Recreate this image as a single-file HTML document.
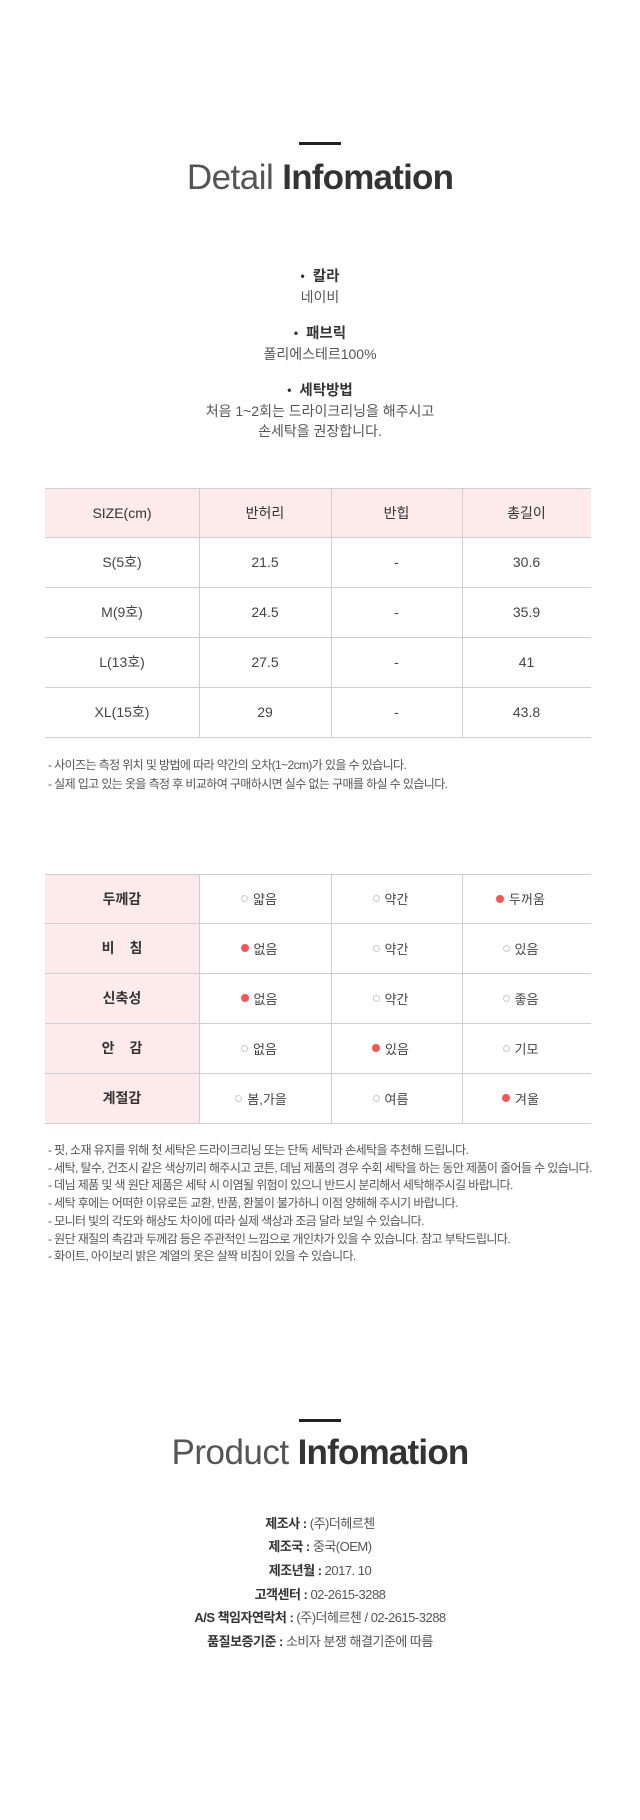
<!DOCTYPE html>
<html><head><meta charset="utf-8">
<style>
*{margin:0;padding:0;box-sizing:border-box}
html,body{width:640px;height:1820px;background:#fff;overflow:hidden}
body{position:relative;font-family:"Liberation Sans","Noto Sans CJK KR",sans-serif;color:#444}
.bar{position:absolute;left:299px;width:42px;height:3px;background:#222}
.title{position:absolute;left:0;width:640px;text-align:center;font-size:35px;line-height:40px;white-space:nowrap}
.title .l{color:#555;font-weight:normal;letter-spacing:-0.5px;margin-right:9px}
.title .b{color:#333;font-weight:bold;letter-spacing:-0.8px}
.c{position:absolute;left:0;width:640px;text-align:center;white-space:nowrap;line-height:20px}
.lab{font-size:14.5px;font-weight:bold;color:#333}
.lab .dot{font-size:12px;margin-right:8px;position:relative;top:-1px}
.txt{font-size:14px;color:#555}
.hl{position:absolute;left:45px;width:546px;height:1px;background:#cfcfcf}
.vl{position:absolute;width:1px;background:#cfcfcf}
.pink{position:absolute;background:#fdeaea}
.cell{position:absolute;display:flex;align-items:center;justify-content:center;font-size:14px;white-space:nowrap;color:#444}
.hd{color:#333}
.bh{font-weight:bold;color:#333;font-size:14px}
.v{display:flex;align-items:center;justify-content:center;padding-right:12px;font-size:13px;color:#444}
.o{display:inline-block;width:7px;height:7px;border:1px solid #cacaca;border-radius:50%;margin-right:5px}
.f{display:inline-block;width:8px;height:8px;background:#f45656;border-radius:50%;margin-right:5px}
.notes{position:absolute;left:48px;font-size:12px;letter-spacing:-0.6px;color:#555;white-space:nowrap}
.pi{position:absolute;left:0;width:640px;text-align:center;font-size:13px;letter-spacing:-0.5px;line-height:23.7px;white-space:nowrap;color:#555}
.pi b{color:#333}
</style></head>
<body>

<!-- Detail Infomation -->
<div class="bar" style="top:142px"></div>
<div class="title" style="top:158px"><span class="l">Detail</span><span class="b">Infomation</span></div>

<div class="c lab" style="top:267px"><span class="dot">•</span>칼라</div>
<div class="c txt" style="top:287px">네이비</div>
<div class="c lab" style="top:324px"><span class="dot">•</span>패브릭</div>
<div class="c txt" style="top:344px">폴리에스테르100%</div>
<div class="c lab" style="top:381px"><span class="dot">•</span>세탁방법</div>
<div class="c txt" style="top:401px">처음 1~2회는 드라이크리닝을 해주시고</div>
<div class="c txt" style="top:421px">손세탁을 권장합니다.</div>

<!-- Size table -->
<div class="pink" style="left:45px;top:488px;width:546px;height:49px"></div>
<div class="hl" style="top:488px"></div>
<div class="hl" style="top:537px"></div>
<div class="hl" style="top:587px"></div>
<div class="hl" style="top:637px"></div>
<div class="hl" style="top:687px"></div>
<div class="hl" style="top:737px"></div>
<div class="vl" style="left:199px;top:488px;height:250px"></div>
<div class="vl" style="left:331px;top:488px;height:250px"></div>
<div class="vl" style="left:462px;top:488px;height:250px"></div>

<div class="cell hd" style="left:45px;width:154px;top:488px;height:49px">SIZE(cm)</div>
<div class="cell hd" style="left:199px;width:132px;top:488px;height:49px">반허리</div>
<div class="cell hd" style="left:331px;width:131px;top:488px;height:49px">반힙</div>
<div class="cell hd" style="left:462px;width:129px;top:488px;height:49px">총길이</div>

<div class="cell" style="left:45px;width:154px;top:537px;height:50px">S(5호)</div>
<div class="cell" style="left:199px;width:132px;top:537px;height:50px">21.5</div>
<div class="cell" style="left:331px;width:131px;top:537px;height:50px">-</div>
<div class="cell" style="left:462px;width:129px;top:537px;height:50px">30.6</div>

<div class="cell" style="left:45px;width:154px;top:587px;height:50px">M(9호)</div>
<div class="cell" style="left:199px;width:132px;top:587px;height:50px">24.5</div>
<div class="cell" style="left:331px;width:131px;top:587px;height:50px">-</div>
<div class="cell" style="left:462px;width:129px;top:587px;height:50px">35.9</div>

<div class="cell" style="left:45px;width:154px;top:637px;height:50px">L(13호)</div>
<div class="cell" style="left:199px;width:132px;top:637px;height:50px">27.5</div>
<div class="cell" style="left:331px;width:131px;top:637px;height:50px">-</div>
<div class="cell" style="left:462px;width:129px;top:637px;height:50px">41</div>

<div class="cell" style="left:45px;width:154px;top:687px;height:50px">XL(15호)</div>
<div class="cell" style="left:199px;width:132px;top:687px;height:50px">29</div>
<div class="cell" style="left:331px;width:131px;top:687px;height:50px">-</div>
<div class="cell" style="left:462px;width:129px;top:687px;height:50px">43.8</div>

<div class="notes" style="top:755.5px;line-height:19px">- 사이즈는 측정 위치 및 방법에 따라 약간의 오차(1~2cm)가 있을 수 있습니다.<br>- 실제 입고 있는 옷을 측정 후 비교하여 구매하시면 실수 없는 구매를 하실 수 있습니다.</div>

<!-- Fabric table -->
<div class="pink" style="left:45px;top:874px;width:154px;height:249px"></div>
<div class="hl" style="top:874px"></div>
<div class="hl" style="top:923px"></div>
<div class="hl" style="top:973px"></div>
<div class="hl" style="top:1023px"></div>
<div class="hl" style="top:1073px"></div>
<div class="hl" style="top:1123px"></div>
<div class="vl" style="left:199px;top:874px;height:250px"></div>
<div class="vl" style="left:331px;top:874px;height:250px"></div>
<div class="vl" style="left:462px;top:874px;height:250px"></div>

<!-- row 1 -->
<div class="cell bh" style="left:45px;width:154px;top:874px;height:49px">두께감</div>
<div class="cell" style="left:199px;width:132px;top:874px;height:49px"><div class="v"><span class="o"></span>얇음</div></div>
<div class="cell" style="left:331px;width:131px;top:874px;height:49px"><div class="v"><span class="o"></span>약간</div></div>
<div class="cell" style="left:462px;width:129px;top:874px;height:49px"><div class="v"><span class="f"></span>두꺼움</div></div>
<!-- row 2 -->
<div class="cell bh" style="left:45px;width:154px;top:923px;height:50px">비<span style="display:inline-block;width:15px"></span>침</div>
<div class="cell" style="left:199px;width:132px;top:923px;height:50px"><div class="v"><span class="f"></span>없음</div></div>
<div class="cell" style="left:331px;width:131px;top:923px;height:50px"><div class="v"><span class="o"></span>약간</div></div>
<div class="cell" style="left:462px;width:129px;top:923px;height:50px"><div class="v"><span class="o"></span>있음</div></div>
<!-- row 3 -->
<div class="cell bh" style="left:45px;width:154px;top:973px;height:50px">신축성</div>
<div class="cell" style="left:199px;width:132px;top:973px;height:50px"><div class="v"><span class="f"></span>없음</div></div>
<div class="cell" style="left:331px;width:131px;top:973px;height:50px"><div class="v"><span class="o"></span>약간</div></div>
<div class="cell" style="left:462px;width:129px;top:973px;height:50px"><div class="v"><span class="o"></span>좋음</div></div>
<!-- row 4 -->
<div class="cell bh" style="left:45px;width:154px;top:1023px;height:50px">안<span style="display:inline-block;width:15px"></span>감</div>
<div class="cell" style="left:199px;width:132px;top:1023px;height:50px"><div class="v"><span class="o"></span>없음</div></div>
<div class="cell" style="left:331px;width:131px;top:1023px;height:50px"><div class="v"><span class="f"></span>있음</div></div>
<div class="cell" style="left:462px;width:129px;top:1023px;height:50px"><div class="v"><span class="o"></span>기모</div></div>
<!-- row 5 -->
<div class="cell bh" style="left:45px;width:154px;top:1073px;height:50px">계절감</div>
<div class="cell" style="left:199px;width:132px;top:1073px;height:50px"><div class="v" style="padding-right:8px"><span class="o"></span>봄,가을</div></div>
<div class="cell" style="left:331px;width:131px;top:1073px;height:50px"><div class="v"><span class="o"></span>여름</div></div>
<div class="cell" style="left:462px;width:129px;top:1073px;height:50px"><div class="v"><span class="f"></span>겨울</div></div>

<div class="notes" style="top:1142px;line-height:17.7px">- 핏, 소재 유지를 위해 첫 세탁은 드라이크리닝 또는 단독 세탁과 손세탁을 추천해 드립니다.<br>- 세탁, 탈수, 건조시 같은 색상끼리 해주시고 코튼, 데님 제품의 경우 수회 세탁을 하는 동안 제품이 줄어들 수 있습니다.<br>- 데님 제품 및 색 원단 제품은 세탁 시 이염될 위험이 있으니 반드시 분리해서 세탁해주시길 바랍니다.<br>- 세탁 후에는 어떠한 이유로든 교환, 반품, 환불이 불가하니 이점 양해해 주시기 바랍니다.<br>- 모니터 빛의 각도와 해상도 차이에 따라 실제 색상과 조금 달라 보일 수 있습니다.<br>- 원단 재질의 촉감과 두께감 등은 주관적인 느낌으로 개인차가 있을 수 있습니다. 참고 부탁드립니다.<br>- 화이트, 아이보리 밝은 계열의 옷은 살짝 비침이 있을 수 있습니다.</div>

<!-- Product Infomation -->
<div class="bar" style="top:1419px"></div>
<div class="title" style="top:1433px"><span class="l">Product</span><span class="b">Infomation</span></div>

<div class="pi" style="top:1511.5px">
<b>제조사 :</b> (주)더헤르첸<br>
<b>제조국 :</b> 중국(OEM)<br>
<b>제조년월 :</b> 2017. 10<br>
<b>고객센터 :</b> 02-2615-3288<br>
<b>A/S 책임자연락처 :</b> (주)더헤르첸 / 02-2615-3288<br>
<b>품질보증기준 :</b> 소비자 분쟁 해결기준에 따름
</div>

</body></html>
